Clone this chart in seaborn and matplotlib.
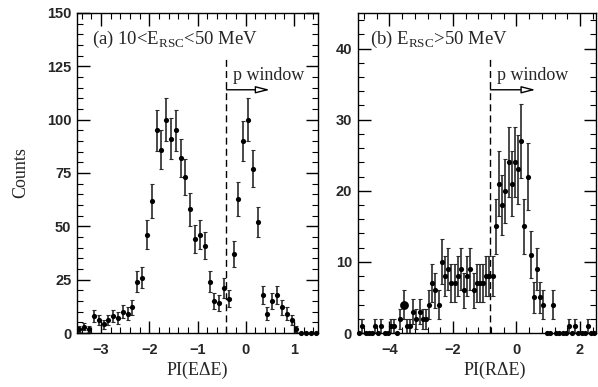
import numpy as np
import pandas as pd
import matplotlib
matplotlib.use('Agg')
import matplotlib.pyplot as plt
import seaborn as sns
from matplotlib.ticker import MultipleLocator

# panel (a): 10 < E_RSC < 50 MeV
left_x = [-3.45, -3.35, -3.25, -3.15, -3.05, -2.95, -2.85, -2.75, -2.65, -2.55,
          -2.45, -2.35, -2.25, -2.15, -2.05, -1.95, -1.85, -1.75, -1.65, -1.55,
          -1.45, -1.35, -1.25, -1.15, -1.05, -0.95, -0.85, -0.75, -0.65, -0.55,
          -0.45, -0.35, -0.25, -0.15, -0.05, 0.05, 0.15, 0.25, 0.35, 0.45,
          0.55, 0.65, 0.75, 0.85, 0.95, 1.05, 1.15, 1.25, 1.35, 1.45]
left_counts = [2, 3, 2, 8, 6, 4, 6, 8, 7, 10,
               9, 12, 24, 26, 46, 62, 95, 86, 100, 91,
               95, 82, 73, 58, 44, 46, 41, 24, 15, 14,
               21, 16, 37, 63, 90, 100, 77, 52, 18, 9,
               15, 18, 12, 9, 6, 2, 0, 0, 0, 0]

# panel (b): E_RSC > 50 MeV
right_x = [-4.95, -4.85, -4.75, -4.65, -4.55, -4.45, -4.35, -4.25, -4.15, -4.05,
           -3.95, -3.85, -3.75, -3.65, -3.55, -3.45, -3.35, -3.25, -3.15, -3.05,
           -2.95, -2.85, -2.75, -2.65, -2.55, -2.45, -2.35, -2.25, -2.15, -2.05,
           -1.95, -1.85, -1.75, -1.65, -1.55, -1.45, -1.35, -1.25, -1.15, -1.05,
           -0.95, -0.85, -0.75, -0.65, -0.55, -0.45, -0.35, -0.25, -0.15, -0.05,
           0.05, 0.15, 0.25, 0.35, 0.45, 0.55, 0.65, 0.75, 0.85, 0.95,
           1.05, 1.15, 1.25, 1.35, 1.45, 1.55, 1.65, 1.75, 1.85, 1.95,
           2.05, 2.15, 2.25, 2.35, 2.45]
right_counts = [0, 1, 0, 0, 0, 1, 0, 1, 0, 0,
                1, 1, 0, 2, 4, 1, 1, 3, 2, 3,
                2, 2, 4, 7, 6, 4, 10, 8, 9, 7,
                7, 8, 9, 6, 8, 9, 6, 7, 7, 7,
                8, 8, 8, 15, 21, 18, 20, 24, 21, 24,
                23, 27, 15, 22, 11, 5, 9, 5, 4, 0,
                0, 4, 0, 0, 0, 0, 1, 0, 1, 0,
                0, 0, 1, 0, 0]
right_big_point = -3.55  # drawn with a larger dot in the original

# p window cut and arrow (x start, x end, arrow height, dashed line top)
left_window = (-0.4, 0.5, 114, 130)
right_window = (-0.82, 0.6, 34.2, 39)

sns.set_theme(style='ticks')
plt.rcParams['font.family'] = ['Liberation Serif', 'DejaVu Serif']
plt.rcParams['mathtext.fontset'] = 'custom'
plt.rcParams['mathtext.rm'] = 'Liberation Serif'
plt.rcParams['axes.edgecolor'] = 'black'
plt.rcParams['axes.linewidth'] = 1.0


def draw_panel(ax, x, counts, window, xlim, ylim, xmaj, xmin, ymaj, ymin, big=None):
    df = pd.DataFrame({'x': x, 'counts': counts})
    df['err'] = np.sqrt(df['counts'])
    nz = df[df['counts'] > 0]
    ax.errorbar(nz['x'], nz['counts'], yerr=nz['err'], fmt='none', ecolor='#2a2a2a',
                elinewidth=1.2, capsize=1.3, capthick=0.8, zorder=2)
    sns.scatterplot(data=df, x='x', y='counts', ax=ax, color='black', s=14,
                    linewidth=0, legend=False, zorder=3, clip_on=False)
    if big is not None:
        b = df[np.isclose(df['x'], big)]
        sns.scatterplot(data=b, x='x', y='counts', ax=ax, color='black', s=40,
                        linewidth=0, legend=False, zorder=3)

    x0, x1, ya, ytop = window
    ax.plot([x0, x0], [0, ytop], color='black', lw=1.0, ls=(0, (5, 3)), zorder=1)
    ax.annotate('', xy=(x1, ya), xytext=(x0, ya),
                arrowprops=dict(arrowstyle='-|>,head_length=0.7,head_width=0.18',
                                fc='white', ec='black', lw=1.0, shrinkA=0, shrinkB=0))
    ax.annotate('p window', xy=(x0, ya), xytext=(5, 10), textcoords='offset points',
                fontsize=13, ha='left', va='center')

    ax.set_xlim(*xlim)
    ax.set_ylim(*ylim)
    ax.xaxis.set_major_locator(MultipleLocator(xmaj))
    ax.xaxis.set_minor_locator(MultipleLocator(xmin))
    ax.yaxis.set_major_locator(MultipleLocator(ymaj))
    ax.yaxis.set_minor_locator(MultipleLocator(ymin))
    ax.tick_params(which='both', direction='in', top=True, right=True, color='black')
    ax.tick_params(which='major', length=9, width=1.0)
    ax.tick_params(which='minor', length=4, width=0.8)
    ax.tick_params(axis='y', pad=4)
    ax.tick_params(axis='x', pad=7)
    ax.set_xticklabels([t.get_text().replace('-', '\u2212') for t in ax.get_xticklabels()])
    for lab in ax.get_xticklabels() + ax.get_yticklabels():
        lab.set_fontfamily('Liberation Sans')
        lab.set_fontweight('bold')
        lab.set_fontsize(10.5)


fig = plt.figure(figsize=(5.98, 3.87), dpi=100)
ax1 = fig.add_axes([0.1288, 0.1395, 0.403, 0.827])
ax2 = fig.add_axes([0.598, 0.1395, 0.3985, 0.827])

draw_panel(ax1, left_x, left_counts, left_window, (-3.5, 1.5), (0, 150), 1, 0.2, 25, 5)
draw_panel(ax2, right_x, right_counts, right_window, (-5.0, 2.5), (0, 45), 2, 0.4, 10, 2,
           big=right_big_point)

ax1.text(0.062, 0.918, r'(a) 10<E$_{\rm RSC}$<50 MeV', transform=ax1.transAxes,
         fontsize=13.5, ha='left', va='center')
ax2.text(0.052, 0.918, r'(b) E$_{\rm RSC}$>50 MeV', transform=ax2.transAxes,
         fontsize=13.5, ha='left', va='center')

ax1.set_ylabel('Counts', fontsize=13)
ax1.yaxis.set_label_coords(-0.2, 0.5)
ax1.set_xlabel('PI(E\u0394E)', fontsize=13)
ax1.xaxis.set_label_coords(0.5, -0.09)
ax2.set_ylabel('')
ax2.set_xlabel('PI(R\u0394E)', fontsize=13)
ax2.xaxis.set_label_coords(0.576, -0.09)

fig.savefig('out.png', dpi=100)
